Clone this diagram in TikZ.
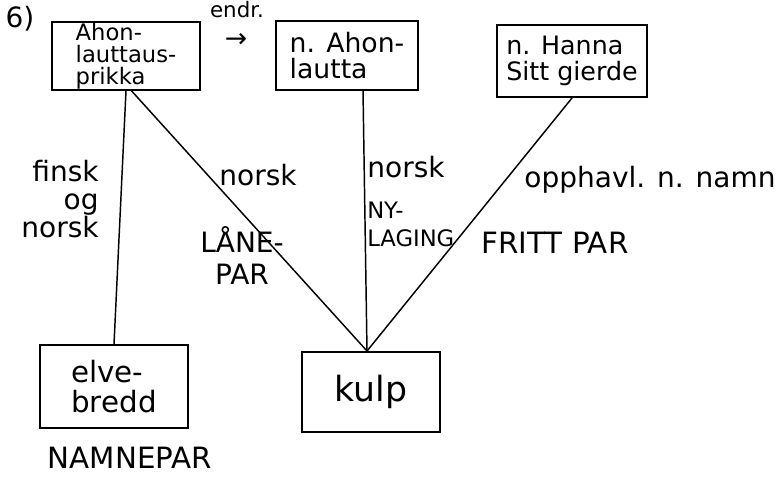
\documentclass[tikz,border=0pt]{standalone}
\usepackage{fontspec}
\setmainfont{DejaVu Sans}
\usetikzlibrary{positioning}

\tikzset{
  namebox/.style={draw, line width=1.5pt, inner sep=0.5pt, align=left,
    font=\fontsize{17}{16.5}\selectfont},
  link/.style={line width=1.1pt},
  tag/.style={inner sep=0.75pt, align=center, font=\fontsize{21}{20}\selectfont},
  captag/.style={tag, font=\fontsize{21}{24}\selectfont}
}

\begin{document}
\begin{tikzpicture}[x=0.75pt,y=0.75pt,yscale=-1,xscale=1]
  \path[use as bounding box] (0,0) rectangle (784,478);

  % top row of names
  \node[namebox, minimum width=111pt, minimum height=49.5pt] (prikka) at (126,56) {Ahon-\\lauttaus-\\prikka};
  \node[namebox, minimum width=106.5pt, minimum height=51pt, font=\fontsize{20}{20}\selectfont] (lautta) at (347,55.5) {n. Ahon-\\lautta};
  \node[namebox, minimum width=112.5pt, minimum height=54pt, font=\fontsize{19}{20}\selectfont] (gierde) at (572,61) {n. Hanna\\Sitt gierde};

  % bottom row
  \node[namebox, minimum width=111pt, minimum height=62pt, font=\fontsize{22}{23}\selectfont] (bredd) at (114,386.5) {elve-\\bredd};
  \node[namebox, minimum width=103.5pt, minimum height=60pt, align=center, font=\fontsize{26}{26}\selectfont] (kulp) at (371,392) {kulp};

  % links
  \draw[link] (prikka.south) -- (bredd.north);
  \draw[link] ([xshift=4pt]prikka.south) -- ([xshift=-3pt]kulp.north);
  \draw[link] ([xshift=12pt]lautta.south) -- ([xshift=-3pt]kulp.north);
  \draw[link] (gierde.south) -- ([xshift=-3pt]kulp.north);

  % Text Node
  \node[tag] (nr) at (20,19) {6)};
  % Text Node
  \node[tag, font=\fontsize{16}{16}\selectfont] (endr) at (237,10) {endr.};
  \node[tag, inner sep=0pt, font=\fontsize{20}{20}\selectfont] (pil) at (236,40) {→};
  % Text Node
  \node[tag, align=right, font=\fontsize{21}{21}\selectfont] (finsk) at (60,199) {finsk\\og\\norsk};
  % Text Node
  \node[tag] (norska) at (258,175) {norsk};
  \node[captag] (laane) at (242,256) {LÅNE-\\PAR};
  % Text Node
  \node[tag] (norskb) at (406,167) {norsk};
  \node[captag, anchor=west, align=left, font=\fontsize{17}{21}\selectfont] (nylaging) at (366,224) {NY-\\LAGING};
  % Text Node
  \node[tag] (opphav) at (650,180) {opphavl. n. namn};
  \node[captag, font=\fontsize{22}{24}\selectfont] (fritt) at (555,243) {FRITT PAR};
  % Text Node
  \node[captag, font=\fontsize{22}{24}\selectfont] (namnepar) at (130,458) {NAMNEPAR};
\end{tikzpicture}
\end{document}
